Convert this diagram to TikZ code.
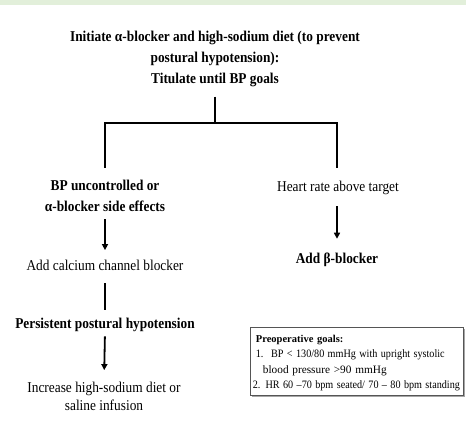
\documentclass[tikz,border=0pt]{standalone}
\usepackage{fontspec}
\usepackage{graphicx}
\setmainfont{Liberation Serif}
\usetikzlibrary{arrows.meta,shadows}
\definecolor{bandgreen}{HTML}{E2EFDA}
\definecolor{boxgray}{HTML}{555555}
\begin{document}
\begin{tikzpicture}[x=1pt,y=-1pt,
  heading/.style={font=\fontsize{15}{21}\selectfont\bfseries, align=center, inner sep=0pt, xscale=0.89},
  plain/.style={font=\fontsize{15}{18}\selectfont, align=center, inner sep=0pt, xscale=0.89},
  link/.style={line width=1.8pt},
  flow/.style={line width=1.8pt, -{Triangle[length=6pt,width=6pt]}},
  goalbox/.style={draw=boxgray, line width=0.8pt, fill=white, align=left,
    font=\fontsize{11.3}{15.4}\selectfont, text width=202pt, inner xsep=5.5pt, inner ysep=4.5pt,
    drop shadow={shadow xshift=1.5pt, shadow yshift=-1.5pt, fill=gray!70, opacity=1}},
]
\useasboundingbox (0,0) rectangle (466,432);
\fill[bandgreen] (0,0) rectangle (466,5);

% treatment start (multi-line nodes are anchored at the last baseline)
\node[heading, anchor=base] (title) at (215,83)
  {Initiate α-blocker and high-sodium diet (to prevent\\postural hypotension):\\Titulate until BP goals};

% left branch
\node[heading, anchor=base] (bp) at (105,211) {BP uncontrolled or\\α-blocker side effects};
\node[plain, anchor=base] (ccb) at (105,270.7) {Add calcium channel blocker};
\node[heading, anchor=base] (pph) at (105,328) {Persistent postural hypotension};
\node[plain, anchor=base] (salt) at (104,410.7) {Increase high-sodium diet or\\saline infusion};

% right branch
\node[plain, anchor=base] (hr) at (338,191.7) {Heart rate above target};
\node[heading, anchor=base] (beta) at (337,263) {Add β-blocker};

% goals box
\node[goalbox, anchor=north west] (goals) at (250,327)
  {\rule{0pt}{10.5pt}{\fontsize{10.5}{15.4}\selectfont\bfseries Preoperative goals:}\\
   \mbox{\scalebox{0.9}[1]{1.\hspace{0.75em}BP < 130/80 mmHg with upright systolic}}\\
   \hspace*{0.62em}blood pressure >90 mmHg\\
   \hspace*{-3pt}\mbox{\scalebox{0.9}[1]{2. HR 60 –70 bpm seated/ 70 – 80 bpm standing}}};

% connectors
\coordinate (split) at (215,123);
\draw[link, shorten <=10pt] (title.south) -- (split);
\draw[link] ([yshift=11.6pt]bp.north) |- (split) -| ([yshift=13.3pt]hr.north -| beta);
\draw[flow, shorten <=8pt, shorten >=10pt] (bp.south) -- (ccb.north);
\draw[link, shorten <=12pt, shorten >=7.6pt] (ccb.south) -- (pph.north);
\draw[flow, shorten <=5pt, shorten >=12pt] (pph.south) -- (salt.north);
\draw[flow, shorten <=11pt, shorten >=13.5pt] (hr.south -| beta) -- (beta.north);
\end{tikzpicture}
\end{document}
